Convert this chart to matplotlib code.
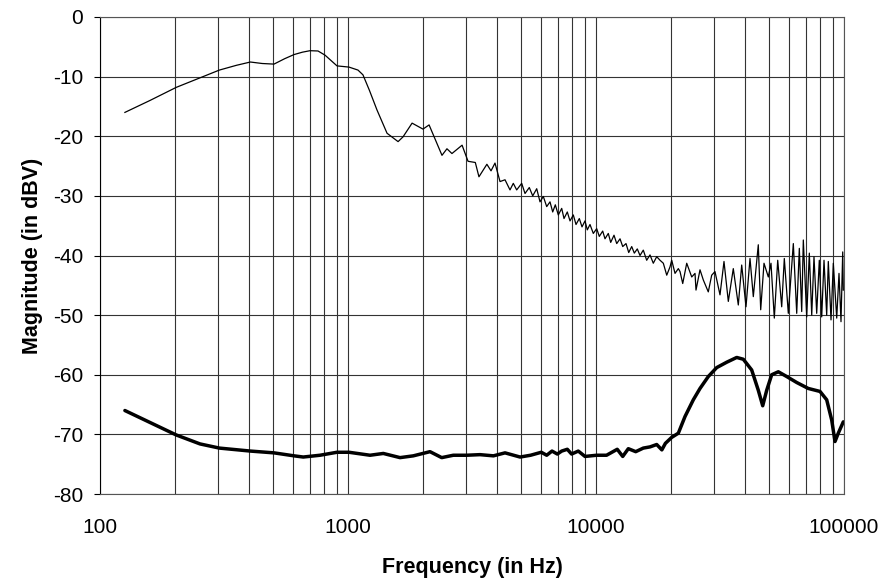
import numpy as np
import matplotlib.pyplot as plt
from matplotlib.ticker import LogLocator, FixedLocator, NullFormatter

plt.rcParams['font.family'] = ['Liberation Sans', 'DejaVu Sans']
plt.rcParams['axes.unicode_minus'] = False

# upper (thin) trace: frequency in Hz, magnitude in dBV
upper_freq = [126, 159, 203, 253, 303, 355, 404, 451, 503, 555, 606, 655, 703, 757, 808, 903,
              1009, 1097, 1149, 1220, 1309, 1437, 1592, 1667, 1813, 2006, 2123, 2393,
              2506, 2625, 2884, 3048, 3261, 3373, 3631, 3773, 3915, 4102,
              4297, 4500, 4640, 4788, 5016, 5173, 5383, 5557, 5767, 5946, 6131,
              6327, 6524, 6690, 6854, 7047, 7273, 7430, 7661, 7856, 8100, 8306,
              8565, 8781, 9029, 9224, 9458, 9752, 10065, 10310, 10641, 10871,
              11209, 11463, 11820, 12121, 12499, 12816, 13213, 13550, 13932,
              14270, 14673, 15046, 15513, 16010, 16509, 17022, 17572,
              18122, 18685, 19285, 19884, 20199, 20827, 21478, 21818, 22372,
              23217, 24322, 25075, 25307, 26265, 27082, 28365, 29275, 30186,
              31623, 32818, 34160, 35777, 37480, 38682, 40254, 41783, 43083,
              45124, 46144, 47579, 49524, 50772, 52360, 54040, 56080, 57451,
              59627, 62468, 64470, 66048, 67525, 68543, 70740, 72470, 74108,
              75683, 77610, 79510, 81300, 83062, 85158, 86440, 88640, 90556,
              93463, 95465, 97251, 98809, 99360]
upper_db = [-16.0, -14.0, -11.8, -10.2, -8.9, -8.1, -7.55, -7.8, -7.9, -7.0, -6.3, -5.9, -5.65, -5.7, -6.4, -8.2,
            -8.4, -8.9, -9.7, -12.3, -15.6, -19.5, -20.9, -20.1, -17.8, -18.8, -18.1, -23.2,
            -22.1, -22.9, -21.5, -24.2, -24.4, -26.8, -24.7, -25.8, -24.5, -27.6,
            -27.3, -29.0, -27.9, -29.0, -27.9, -29.6, -28.6, -30.0, -28.8, -31.0, -30.1,
            -31.8, -31.0, -32.7, -31.5, -33.2, -32.1, -33.8, -32.7, -34.2, -33.2, -34.8,
            -33.8, -35.2, -34.2, -35.7, -34.8, -36.3, -35.5, -36.8, -35.9, -37.2,
            -36.3, -37.8, -36.6, -38.0, -37.2, -38.5, -38.0, -39.5, -38.5,
            -39.6, -38.9, -40.0, -39.1, -40.8, -39.9, -41.3, -40.2,
            -40.8, -41.3, -43.3, -41.9, -40.8, -43.0, -42.2, -42.7, -44.7,
            -41.3, -43.6, -43.0, -45.8, -42.4, -44.1, -46.1, -43.3, -42.7,
            -46.6, -41.0, -47.7, -42.2, -48.3, -41.6, -48.6, -40.5, -46.9,
            -38.2, -49.1, -41.3, -43.6, -41.3, -50.5, -40.8, -48.6, -40.5,
            -49.7, -38.0, -49.7, -38.8, -49.4, -37.4, -50.3, -39.6, -50.0,
            -40.2, -49.7, -40.8, -50.3, -40.8, -50.0, -41.0, -50.8, -41.3,
            -50.5, -43.0, -51.1, -39.4, -45.8]

# lower (thick) trace
lower_freq = [126, 159, 203, 253, 303, 404, 503, 606, 660, 771, 903, 1009, 1227,
              1388, 1621, 1834, 2141, 2387, 2658, 3010, 3405, 3859, 4297, 4941,
              5447, 6018, 6327, 6647, 6984, 7273, 7661, 7973, 8483, 9029, 10065,
              11030, 12180, 12816, 13500, 14460, 15513, 16509, 17572, 18430,
              19050, 20199, 21478, 22855, 24682, 26265, 28365, 30668, 33651,
              36931, 39264, 42440, 45124, 47012, 48790, 51101, 54338, 58750,
              64470, 71779, 80040, 85158, 89217, 91980, 94840, 99360]
lower_db = [-66.0, -68.0, -70.1, -71.6, -72.3, -72.8, -73.1, -73.6, -73.8, -73.5, -73.0, -73.0, -73.5,
            -73.2, -73.9, -73.6, -72.9, -73.9, -73.5, -73.5, -73.4, -73.6, -73.1, -73.8,
            -73.5, -73.0, -73.5, -72.8, -73.3, -72.8, -72.5, -73.3, -72.8, -73.7, -73.5,
            -73.5, -72.5, -73.7, -72.4, -72.9, -72.3, -72.1, -71.7, -72.6,
            -71.5, -70.5, -69.8, -67.0, -64.2, -62.3, -60.3, -58.8, -57.9,
            -57.1, -57.4, -59.2, -62.6, -65.2, -62.6, -60.0, -59.5, -60.3,
            -61.3, -62.3, -62.8, -64.2, -67.6, -71.2, -69.8, -67.9]

x_ticks = [100, 1000, 10000, 100000]
x_ticklabels = ['100', '1000', '10000', '100000']
y_ticks = list(range(-80, 1, 10))

fig = plt.figure(figsize=(8.86, 5.86), dpi=100)
ax = fig.add_axes([100 / 886, 1 - 494 / 586, 744 / 886, 477 / 586])

ax.plot(upper_freq, upper_db, color='black', linewidth=0.9)
ax.plot(lower_freq, lower_db, color='black', linewidth=2.5, solid_capstyle='round')

ax.set_xscale('log')
ax.set_xlim(100, 100000)
ax.set_ylim(-80, 0)
ax.xaxis.set_major_locator(FixedLocator(x_ticks))
ax.set_xticklabels(x_ticklabels)
ax.xaxis.set_minor_locator(LogLocator(base=10, subs=np.arange(2, 10)))
ax.xaxis.set_minor_formatter(NullFormatter())
ax.set_yticks(y_ticks)

ax.grid(True, which='both', axis='x', color='#333333', linewidth=0.8)
ax.grid(True, which='major', axis='y', color='#333333', linewidth=0.8)
ax.set_axisbelow(True)

ax.tick_params(axis='x', which='both', length=0, pad=17, labelsize=15)
ax.tick_params(axis='y', length=4, width=0.8, pad=8, labelsize=15, direction='out')
for s in ax.spines.values():
    s.set_color('#555555')
    s.set_linewidth(0.8)
ax.spines['left'].set_color('black')

ax.set_xlabel('Frequency (in Hz)', fontsize=15.5, fontweight='bold', labelpad=15)
ax.set_ylabel('Magnitude (in dBV)', fontsize=15.5, fontweight='bold', labelpad=7)

fig.savefig('out.png', dpi=100)
